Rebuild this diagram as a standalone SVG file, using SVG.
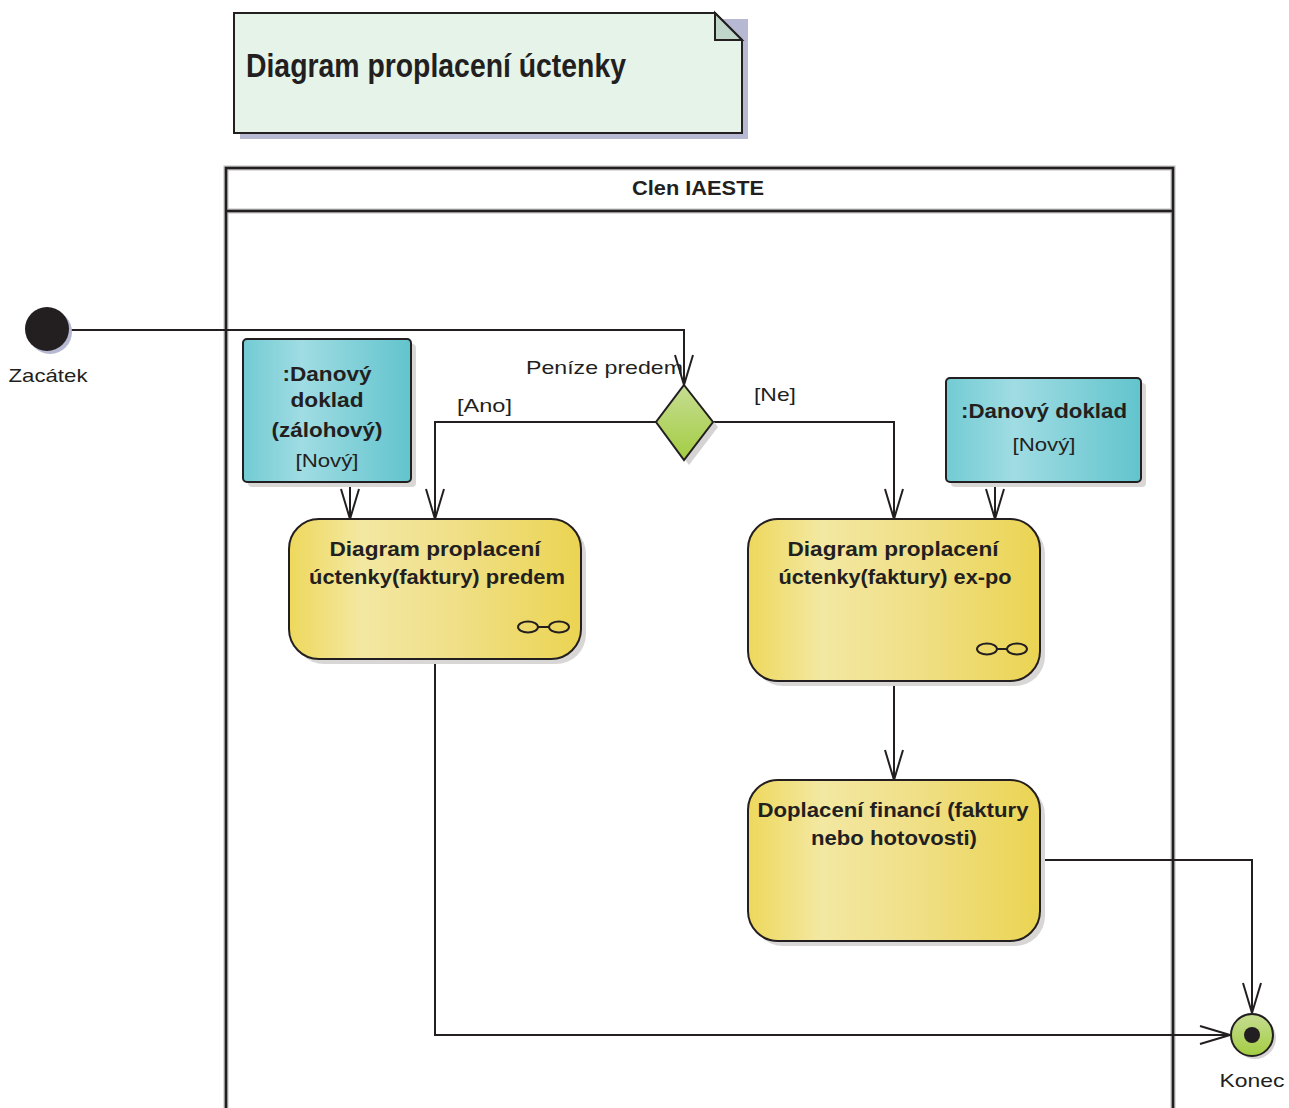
<svg xmlns="http://www.w3.org/2000/svg" width="1289" height="1108" viewBox="0 0 1289 1108">
<style>
.bold{font-family:"Liberation Sans",Arial,sans-serif;font-weight:bold;fill:#231f20}
.reg{font-family:"Liberation Sans",Arial,sans-serif;fill:#231f20}
.edge{fill:none;stroke:#231f20;stroke-width:2}
.nodeStroke{stroke:#231f20;stroke-width:2}
.shadow{fill:#d9d6d6}
</style>
<defs>
<linearGradient id="gAct" x1="0" y1="0" x2="1" y2="0">
<stop offset="0" stop-color="#eed85c"/>
<stop offset="0.25" stop-color="#f3e8a2"/>
<stop offset="0.55" stop-color="#f0e08a"/>
<stop offset="1" stop-color="#ebd452"/>
</linearGradient>
<linearGradient id="gObj" x1="0" y1="0" x2="1" y2="0">
<stop offset="0" stop-color="#72cbd3"/>
<stop offset="0.35" stop-color="#a0dce3"/>
<stop offset="1" stop-color="#62c4cd"/>
</linearGradient>
<linearGradient id="gDia" x1="0" y1="0" x2="0" y2="1">
<stop offset="0" stop-color="#c6dd92"/>
<stop offset="1" stop-color="#a3cd42"/>
</linearGradient>
<marker id="arr" markerUnits="userSpaceOnUse" viewBox="-32 -12 34 24" refX="0" refY="0" markerWidth="34" markerHeight="24" orient="auto">
<path d="M-30,-9 L0,0 L-30,9" fill="none" stroke="#231f20" stroke-width="2"/>
</marker>
</defs>
<rect width="1289" height="1108" fill="#ffffff"/>

<g id="note">
<path d="M240,19 H748 V139 H240 Z" fill="#b6b9d1"/>
<path d="M234,13 H715 L742,40 V133 H234 Z" fill="#e5f3e9" stroke="#231f20" stroke-width="2"/>
<path d="M715,13 V40 H742 Z" fill="#c0d6cb" stroke="#231f20" stroke-width="2"/>
<text class="bold" x="246" y="77" font-size="33" textLength="380" lengthAdjust="spacingAndGlyphs">Diagram proplacení úctenky</text>
</g>

<g id="lane">
<path d="M226,1110 V168 H1173 V1110 M226,211 H1173" fill="none" stroke="#bdbdbd" stroke-width="5"/>
<path d="M226,1110 V168 H1173 V1110 M226,211 H1173" fill="none" stroke="#231f20" stroke-width="2.5"/>
<text class="bold" x="698" y="195" font-size="20" text-anchor="middle" textLength="132" lengthAdjust="spacingAndGlyphs">Clen IAESTE</text>
</g>

<g id="connectors">
<path class="edge" d="M69,330 H684 V385" marker-end="url(#arr)"/>
<path class="edge" d="M656,422 H435 V519" marker-end="url(#arr)"/>
<path class="edge" d="M713,422 H894 V519" marker-end="url(#arr)"/>
<path class="edge" d="M350,482 V519" marker-end="url(#arr)"/>
<path class="edge" d="M995,482 V519" marker-end="url(#arr)"/>
<path class="edge" d="M894,681 V780" marker-end="url(#arr)"/>
<path class="edge" d="M1040,860 H1252 V1013" marker-end="url(#arr)"/>
<path class="edge" d="M435,659 V1035 H1230" marker-end="url(#arr)"/>
<text class="reg" x="526" y="374" font-size="19" textLength="157" lengthAdjust="spacingAndGlyphs">Peníze predem</text>
<text class="reg" x="457" y="412" font-size="19" textLength="55" lengthAdjust="spacingAndGlyphs">[Ano]</text>
<text class="reg" x="754" y="401" font-size="19" textLength="42" lengthAdjust="spacingAndGlyphs">[Ne]</text>
</g>

<g id="start">
<circle cx="50" cy="332" r="22" fill="#b6b9d1"/>
<circle cx="47" cy="329" r="22" fill="#231f20"/>
<text class="reg" x="48" y="382" font-size="19" text-anchor="middle" textLength="79" lengthAdjust="spacingAndGlyphs">Zacátek</text>
</g>

<g id="decision">
<path d="M689,390 L718,427 L689,465 L661,427 Z" fill="#d5d3d3"/>
<path d="M684,385 L713,422 L684,460 L656,422 Z" fill="url(#gDia)" stroke="#231f20" stroke-width="2"/>
</g>

<g id="obj1">
<rect x="248" y="344" width="168" height="143" rx="4" class="shadow"/>
<rect x="243" y="339" width="168" height="143" rx="4" fill="url(#gObj)" class="nodeStroke"/>
<text class="bold" x="327" y="381" font-size="20" text-anchor="middle" textLength="89" lengthAdjust="spacingAndGlyphs">:Danový</text>
<text class="bold" x="327" y="407" font-size="20" text-anchor="middle" textLength="73" lengthAdjust="spacingAndGlyphs">doklad</text>
<text class="bold" x="327" y="437" font-size="20" text-anchor="middle" textLength="111" lengthAdjust="spacingAndGlyphs">(zálohový)</text>
<text class="reg" x="327" y="467" font-size="19" text-anchor="middle" textLength="63" lengthAdjust="spacingAndGlyphs">[Nový]</text>
</g>

<g id="obj2">
<rect x="951" y="383" width="195" height="104" rx="4" class="shadow"/>
<rect x="946" y="378" width="195" height="104" rx="4" fill="url(#gObj)" class="nodeStroke"/>
<text class="bold" x="1044" y="418" font-size="20" text-anchor="middle" textLength="166" lengthAdjust="spacingAndGlyphs">:Danový doklad</text>
<text class="reg" x="1044" y="451" font-size="19" text-anchor="middle" textLength="63" lengthAdjust="spacingAndGlyphs">[Nový]</text>
</g>

<g id="act1">
<rect x="294" y="524" width="292" height="140" rx="30" class="shadow"/>
<rect x="289" y="519" width="292" height="140" rx="30" fill="url(#gAct)" class="nodeStroke"/>
<text class="bold" x="435" y="556" font-size="20" text-anchor="middle" textLength="211" lengthAdjust="spacingAndGlyphs">Diagram proplacení</text>
<text class="bold" x="437" y="584" font-size="20" text-anchor="middle" textLength="256" lengthAdjust="spacingAndGlyphs">úctenky(faktury) predem</text>
<g fill="none" stroke="#231f20" stroke-width="2">
<ellipse cx="528" cy="627" rx="10" ry="5.5"/>
<ellipse cx="559" cy="627" rx="10" ry="5.5"/>
<line x1="538" y1="627" x2="549" y2="627"/>
</g>
</g>

<g id="act2">
<rect x="753" y="524" width="292" height="162" rx="30" class="shadow"/>
<rect x="748" y="519" width="292" height="162" rx="30" fill="url(#gAct)" class="nodeStroke"/>
<text class="bold" x="893" y="556" font-size="20" text-anchor="middle" textLength="211" lengthAdjust="spacingAndGlyphs">Diagram proplacení</text>
<text class="bold" x="895" y="584" font-size="20" text-anchor="middle" textLength="233" lengthAdjust="spacingAndGlyphs">úctenky(faktury) ex-po</text>
<g fill="none" stroke="#231f20" stroke-width="2">
<ellipse cx="987" cy="649" rx="10" ry="5.5"/>
<ellipse cx="1017" cy="649" rx="10" ry="5.5"/>
<line x1="997" y1="649" x2="1007" y2="649"/>
</g>
</g>

<g id="act3">
<rect x="753" y="785" width="292" height="161" rx="30" class="shadow"/>
<rect x="748" y="780" width="292" height="161" rx="30" fill="url(#gAct)" class="nodeStroke"/>
<text class="bold" x="893" y="817" font-size="20" text-anchor="middle" textLength="271" lengthAdjust="spacingAndGlyphs">Doplacení financí (faktury</text>
<text class="bold" x="894" y="845" font-size="20" text-anchor="middle" textLength="166" lengthAdjust="spacingAndGlyphs">nebo hotovosti)</text>
</g>

<g id="end">
<circle cx="1255" cy="1038" r="21" fill="#d5d3d3"/>
<circle cx="1252" cy="1035" r="21" fill="url(#gDia)" stroke="#231f20" stroke-width="2"/>
<circle cx="1252" cy="1035" r="8" fill="#231f20"/>
<text class="reg" x="1252" y="1087" font-size="19" text-anchor="middle" textLength="65" lengthAdjust="spacingAndGlyphs">Konec</text>
</g>
</svg>
